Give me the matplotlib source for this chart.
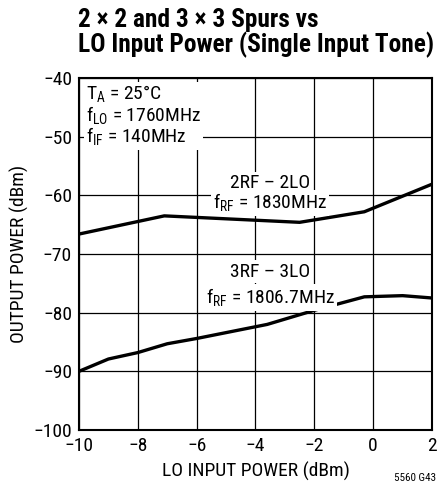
import matplotlib
matplotlib.use("Agg")
import matplotlib.pyplot as plt

plt.rcParams['font.family'] = ['Roboto Condensed', 'DejaVu Sans']
plt.rcParams['mathtext.fontset'] = 'custom'
plt.rcParams['mathtext.rm'] = 'Roboto Condensed'

# 2RF - 2LO spur, fRF = 1830MHz
lo_2x2 = [-10, -7.1, -2.5, -0.3, 2]
out_2x2 = [-66.6, -63.5, -64.6, -62.8, -58.1]

# 3RF - 3LO spur, fRF = 1806.7MHz
lo_3x3 = [-10, -9, -8, -7, -6, -4, -3.6, -2, -0.3, 1, 2]
out_3x3 = [-90, -87.9, -86.8, -85.3, -84.4, -82.4, -82.0, -79.6, -77.3, -77.1, -77.5]

xticks = [-10, -8, -6, -4, -2, 0, 2]
yticks = [-100, -90, -80, -70, -60, -50, -40]

fig = plt.figure(figsize=(4.39, 4.93), dpi=100)
ax = fig.add_axes([79/439, 63/493, 353/439, 352/493])

ax.plot(lo_2x2, out_2x2, color='black', lw=2.4, zorder=3)
ax.plot(lo_3x3, out_3x3, color='black', lw=2.4, zorder=3)

ax.set_xlim(-10, 2)
ax.set_ylim(-100, -40)
ax.set_xticks(xticks)
ax.set_yticks(yticks)
ax.set_xticklabels([str(t).replace('-', '\u2212') for t in xticks])
ax.set_yticklabels([str(t).replace('-', '\u2212') for t in yticks])
ax.tick_params(length=0, labelsize=14, pad=5)
ax.grid(True, color='black', lw=0.9)
ax.set_axisbelow(True)
for s in ax.spines.values():
    s.set_linewidth(1.5)

ax.set_xlabel('LO INPUT POWER (dBm)', fontsize=14, labelpad=5)
ax.set_ylabel('OUTPUT POWER (dBm)', fontsize=14, labelpad=3)

box = dict(facecolor='white', edgecolor='none', pad=1.5)
ax.text(-9.75, -41.0, 'T$_\\mathregular{A}$ = 25\u00b0C\nf$_\\mathregular{LO}$ = 1760MHz\nf$_\\mathregular{IF}$ = 140MHz',
        fontsize=14, va='top', ha='left', linespacing=0.95, bbox=box, zorder=4)
ax.text(-3.5, -57.9, '2RF \u2013 2LO', fontsize=14, ha='center', va='center', bbox=box, zorder=4)
ax.text(-3.5, -61.3, 'f$_\\mathregular{RF}$ = 1830MHz', fontsize=14, ha='center', va='center', bbox=box, zorder=4)
ax.text(-3.5, -73.0, '3RF \u2013 3LO', fontsize=14, ha='center', va='center', bbox=box, zorder=4)
ax.text(-3.5, -77.4, 'f$_\\mathregular{RF}$ = 1806.7MHz', fontsize=14, ha='center', va='center', bbox=box, zorder=4)

fig.text(78/439, 1 - 8/493, '2 \u00d7 2 and 3 \u00d7 3 Spurs vs\nLO Input Power (Single Input Tone)',
         fontsize=18.3, fontweight='bold', ha='left', va='top', linespacing=1.0)
fig.text(436/439, 1 - 478/493, '5560 G43', fontsize=8, ha='right', va='center')

fig.savefig('out.png', dpi=100)
